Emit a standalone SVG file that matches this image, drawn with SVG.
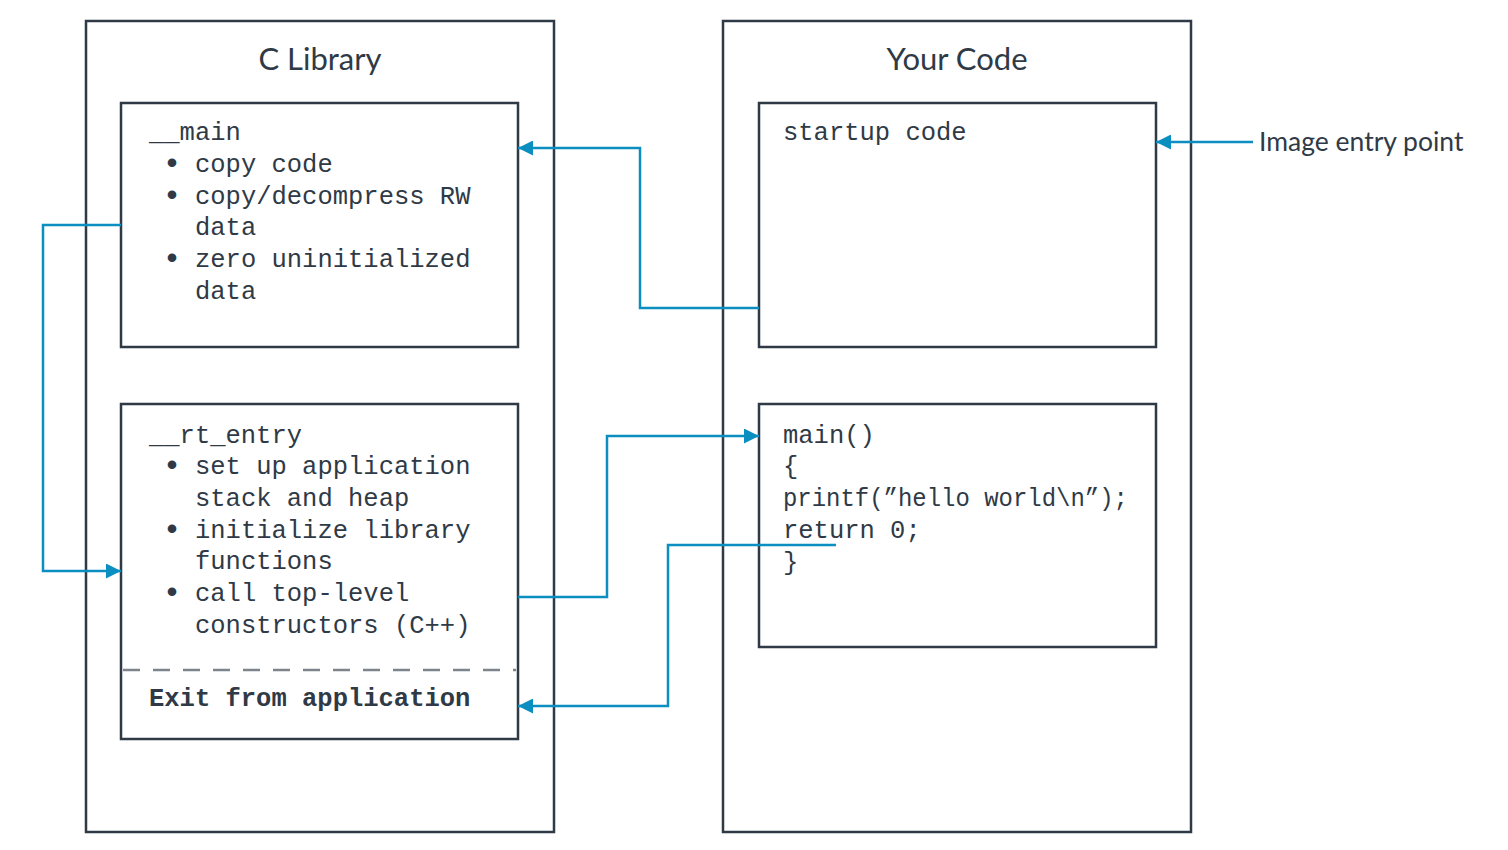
<svg xmlns="http://www.w3.org/2000/svg" width="1508" height="850" viewBox="0 0 1508 850">
<defs>
<style>
.box{fill:#fff;stroke:#2f3a46;stroke-width:2.5}
.title{font-family:Lato,"Liberation Sans",sans-serif;font-size:31px;fill:#2f3a46;text-anchor:middle}
.mono{font-family:"Liberation Mono","Courier New",monospace;font-size:25.5px;fill:#2f3a46}
.bul{font-family:"Liberation Mono","Courier New",monospace;font-size:30px;fill:#2f3a46;font-weight:bold}
.bold{font-weight:bold}
.lbl{font-family:Lato,"Liberation Sans",sans-serif;font-size:26.5px;fill:#2f3a46}
.conn{fill:none;stroke:#0a8fc0;stroke-width:2.5}
.dash{stroke:#7d848c;stroke-width:2.5;stroke-dasharray:17 13}
</style>
<marker id="arr" viewBox="0 0 10 10" refX="10" refY="5" markerWidth="15" markerHeight="15" markerUnits="userSpaceOnUse" orient="auto">
<path d="M0,0 L10,5 L0,10 z" fill="#0a8fc0"/>
</marker>
</defs>
<rect width="1508" height="850" fill="#fff"/>
<g id="c-library">
<rect class="box" x="86" y="21" width="468" height="811"/>
<text class="title" x="320" y="70">C Library</text>
</g>
<g id="your-code">
<rect class="box" x="723" y="21" width="468" height="811"/>
<text class="title" x="957" y="70">Your Code</text>
</g>
<g id="main-box">
<rect class="box" x="121" y="103" width="397" height="244"/>
<text class="mono" x="149" y="140">__main</text>
<text class="bul" x="163" y="173">•</text>
<text class="mono" x="195" y="172">copy code</text>
<text class="bul" x="163" y="205">•</text>
<text class="mono" x="195" y="204">copy/decompress RW</text>
<text class="mono" x="195" y="235">data</text>
<text class="bul" x="163" y="268">•</text>
<text class="mono" x="195" y="267">zero uninitialized</text>
<text class="mono" x="195" y="299">data</text>
</g>
<g id="rt-entry-box">
<rect class="box" x="121" y="404" width="397" height="335"/>
<text class="mono" x="149" y="443">__rt_entry</text>
<text class="bul" x="163" y="475">•</text>
<text class="mono" x="195" y="474">set up application</text>
<text class="mono" x="195" y="506">stack and heap</text>
<text class="bul" x="163" y="539">•</text>
<text class="mono" x="195" y="538">initialize library</text>
<text class="mono" x="195" y="569">functions</text>
<text class="bul" x="163" y="602">•</text>
<text class="mono" x="195" y="601">call top-level</text>
<text class="mono" x="195" y="633">constructors (C++)</text>
<line class="dash" x1="123" y1="670" x2="516" y2="670"/>
<text class="mono bold" x="149" y="706">Exit from application</text>
</g>
<g id="startup-box">
<rect class="box" x="759" y="103" width="397" height="244"/>
<text class="mono" x="783" y="140">startup code</text>
</g>
<g id="user-main-box">
<rect class="box" x="759" y="404" width="397" height="243"/>
<text class="mono" x="783" y="443">main()</text>
<text class="mono" x="783" y="474">{</text>
<text class="mono" x="783" y="506" textLength="345" lengthAdjust="spacingAndGlyphs">printf(”hello world\n”);</text>
<text class="mono" x="783" y="538">return 0;</text>
<text class="mono" x="783" y="570">}</text>
</g>
<g id="entry-label">
<text class="lbl" x="1259" y="151">Image entry point</text>
</g>
<g id="connectors">
<polyline class="conn" points="759,308 640,308 640,148 518,148" marker-end="url(#arr)"/>
<polyline class="conn" points="121,225 43,225 43,571 121,571" marker-end="url(#arr)"/>
<polyline class="conn" points="518,597 607,597 607,436 759,436" marker-end="url(#arr)"/>
<polyline class="conn" points="836,545 668,545 668,706 518,706" marker-end="url(#arr)"/>
<polyline class="conn" points="1253,142 1156,142" marker-end="url(#arr)"/>
</g>
</svg>
